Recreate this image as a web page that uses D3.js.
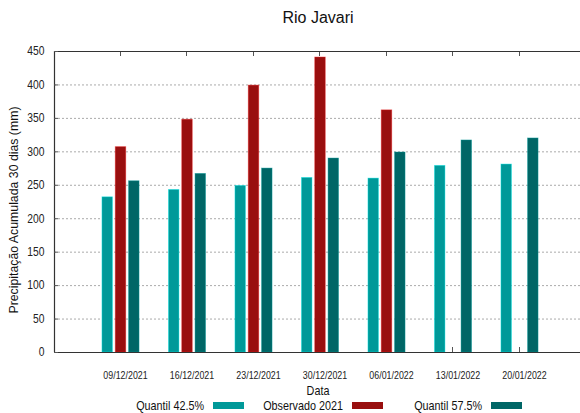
<!DOCTYPE html>
<html><head><meta charset="utf-8">
<script src="https://cdn.jsdelivr.net/npm/d3@7"></script>
<style>
body{margin:0;background:#fff;}
svg{display:block;}
</style></head>
<body>
<svg id="c" width="580" height="413"></svg>
<script>
const categories = ["09/12/2021","16/12/2021","23/12/2021","30/12/2021","06/01/2022","13/01/2022","20/01/2022"];
const q425 = [232, 243, 249, 261, 260, 279, 281];
const obs2021 = [307, 348, 399, 441, 362, null, null];
const q575 = [256, 267, 275, 290, 299, 317, 320];
const yTicks = [0,50,100,150,200,250,300,350,400,450];
const seriesNames = ["Quantil 42.5%","Observado 2021","Quantil 57.5%"];
const seriesColors = ["#009999","#990f0f","#006666"];

const svg = d3.select("#c");
const L = 54, R = 580, T = 51, B = 352;
const x = d3.scalePoint().domain(categories).range([120.5, 519.5]);
const y = d3.scaleLinear().domain([0,450]).range([B, T]);
const reg = "'Liberation Sans', Arial, sans-serif";

// grid
svg.append("g").selectAll("line").data(yTicks.filter(d=>d>0 && d<450)).join("line")
  .attr("x1", L).attr("x2", R).attr("y1", d=>y(d)+0.5).attr("y2", d=>y(d)+0.5)
  .attr("stroke", "#aaa").attr("stroke-width", 1).attr("stroke-dasharray", "2,2");

// ticks at category positions (top & bottom, inward)
const tg = svg.append("g").attr("stroke","#555").attr("stroke-width",1);
tg.selectAll(".tt").data(categories).join("line")
  .attr("x1", d=>Math.round(x(d))-0.5).attr("x2", d=>Math.round(x(d))-0.5)
  .attr("y1", T).attr("y2", T+5);
tg.selectAll(".bt").data(categories).join("line")
  .attr("x1", d=>Math.round(x(d))-0.5).attr("x2", d=>Math.round(x(d))-0.5)
  .attr("y1", B).attr("y2", B-5);

// bars
const bw = 10.5, off = 13.3;
const series = [q425, obs2021, q575];
series.forEach((vals, si) => {
  svg.append("g").selectAll("rect")
    .data(vals.map((v,i)=>({v, c: categories[i]})).filter(d=>d.v!=null))
    .join("rect")
    .attr("x", d => x(d.c) + (si-1)*off - bw/2)
    .attr("width", bw)
    .attr("y", d => y(d.v))
    .attr("height", d => B - y(d.v))
    .attr("fill", seriesColors[si])
    .attr("stroke", d3.color(seriesColors[si]).brighter(1.2))
    .attr("stroke-opacity", 0.5)
    .attr("stroke-width", 0.8);
});

// axes frame
svg.append("line").attr("x1",L).attr("x2",R).attr("y1",T+0.5).attr("y2",T+0.5).attr("stroke","#333").attr("stroke-width",1.2);
svg.append("line").attr("x1",L).attr("x2",R).attr("y1",B+0.5).attr("y2",B+0.5).attr("stroke","#333").attr("stroke-width",1.2);
svg.append("line").attr("x1",L+0.5).attr("x2",L+0.5).attr("y1",T).attr("y2",B).attr("stroke","#333").attr("stroke-width",1.2);

// y ticks & labels
const ya = svg.append("g").attr("transform", `translate(${L},0)`)
  .call(d3.axisLeft(y).tickValues(yTicks).tickSize(-4).tickPadding(11));
ya.select(".domain").remove();
ya.selectAll("line").attr("stroke","#555");
ya.selectAll("text").attr("font-family", reg).attr("font-size", 12).attr("fill","#222")
  .attr("transform","scale(0.86,1)");

// x labels
const xa = svg.append("g").attr("transform", `translate(0,${B})`)
  .call(d3.axisBottom(x).tickSize(0).tickPadding(20));
xa.select(".domain").remove();
xa.selectAll("text").attr("font-family", reg).attr("font-size", 10.3).attr("fill","#222")
  .attr("transform","translate(4.5,0) scale(0.86,1)");

// title
svg.append("text").attr("x", 318).attr("y", 23).attr("text-anchor","middle")
  .attr("font-family", reg).attr("font-size", 16).attr("fill","#111").text("Rio Javari");
// axis titles
svg.append("text").attr("transform","translate(318,395) scale(0.9,1)").attr("text-anchor","middle")
  .attr("font-family", reg).attr("font-size", 12).attr("fill","#111").text("Data");
svg.append("text").attr("transform","translate(18,210) rotate(-90)").attr("text-anchor","middle")
  .attr("font-family", reg).attr("font-size", 12.3).attr("fill","#111").text("Precipitação Acumulada 30 dias (mm)");

// legend
const legEnd = [204, 343, 482];
const lg = svg.append("g");
seriesNames.forEach((n,i)=>{
  lg.append("text").attr("transform", `translate(${legEnd[i]},410) scale(0.9,1)`).attr("text-anchor","end")
    .attr("font-family", reg).attr("font-size", 12).attr("fill","#111").text(n);
  lg.append("rect").attr("x", legEnd[i]+9).attr("y", 402).attr("width", 31).attr("height", 7)
    .attr("fill", seriesColors[i]);
});
</script>
</body></html>
